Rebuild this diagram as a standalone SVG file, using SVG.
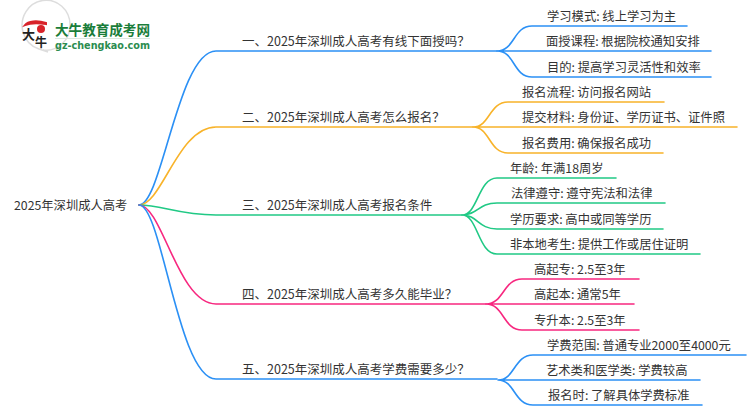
<svg xmlns="http://www.w3.org/2000/svg" width="750" height="410" viewBox="0 0 750 410">
<style>
text{font-family:"Noto Sans CJK SC","Noto Sans",sans-serif;font-size:12.3px;fill:#333}
.m{font-size:12.5px}
.c{fill:none;stroke-width:1.6;stroke-linecap:round}
.b{stroke:#2b90f5}.o{stroke:#f8b32a}.g{stroke:#20c985}.p{stroke:#f7277f}
.lt{font-size:14px;font-weight:700;fill:#1a7d3a}
.ls{font-size:10px;font-weight:700;fill:#2c8c50;font-family:"DejaVu Sans",sans-serif}
</style>
<rect width="750" height="410" fill="#fff"/>
<g id="connectors">
<path class="c b" d="M139 205C162 205 178 51 216 51H497"/>
<path class="c o" d="M139 205C162 205 178 127 216 127H473"/>
<path class="c g" d="M139 205C162 205 178 215 216 215H462"/>
<path class="c p" d="M139 205C162 205 178 304 216 304H486"/>
<path class="c b" d="M139 205C162 205 178 379 216 379H497"/>
<path class="c b" d="M497 51C515 51 513 26 532 26H687M497 51H711M497 51C515 51 513 77 532 77H711"/>
<path class="c o" d="M473 127C490 127 489 102 508 102H664M473 127H737M473 127C490 127 489 153 508 153H663"/>
<path class="c g" d="M462 215C478 215 478 178 497 178H616M462 215C478 215 478 203 497 203H665M462 215C478 215 478 229 497 229H663M462 215C478 215 478 254 497 254H700"/>
<path class="c p" d="M486 304C504 304 503 279 522 279H639M486 304H634M486 304C504 304 503 330 522 330H639"/>
<path class="c b" d="M498 380C515 380 514 355 533 355H746M498 380H700M498 380C515 380 514 405 533 405H702"/>
</g>
<g id="logo">
<path d="M23 32A24 25 0 1 1 43 50L48 52L39 49A24 25 0 0 1 23 32Z" fill="#fff" stroke="#ddd" stroke-width="1.5"/>
<path d="M25 25C28 21 37 20 46 23L46 24C38 23 30 23 25 25Z" fill="#d8232a" stroke="#d8232a" stroke-width="2"/>
<circle cx="41" cy="29" r="4" fill="#d8232a"/>
<text x="22" y="39" style="font-size:13px;font-weight:700;fill:#222">大</text>
<text x="35" y="47" style="font-size:12px;font-weight:700;fill:#222">牛</text>
<text class="lt" x="55" y="35" textLength="95" lengthAdjust="spacingAndGlyphs">大牛教育成考网</text>
<rect x="55" y="38" width="95" height="1" fill="#dce8e0"/>
<text class="ls" x="55" y="48.500" textLength="95" lengthAdjust="spacingAndGlyphs">gz-chengkao.com</text>
</g>
<g id="root"><text x="14" y="209.500">2025年深圳成人高考</text></g>
<g id="n1"><text class="m" x="242" y="46">一、2025年深圳成人高考有线下面授吗？</text></g>
<g id="n1a"><text x="547" y="21">学习模式: 线上学习为主</text></g>
<g id="n1b"><text x="546" y="46">面授课程: 根据院校通知安排</text></g>
<g id="n1c"><text x="547" y="72">目的: 提高学习灵活性和效率</text></g>
<g id="n2"><text class="m" x="242" y="122">二、2025年深圳成人高考怎么报名？</text></g>
<g id="n2a"><text x="522" y="97">报名流程: 访问报名网站</text></g>
<g id="n2b"><text x="522" y="122">提交材料: 身份证、学历证书、证件照</text></g>
<g id="n2c"><text x="522" y="148">报名费用: 确保报名成功</text></g>
<g id="n3"><text class="m" x="242" y="210">三、2025年深圳成人高考报名条件</text></g>
<g id="n3a"><text x="510" y="173">年龄: 年满18周岁</text></g>
<g id="n3b"><text x="511" y="198">法律遵守: 遵守宪法和法律</text></g>
<g id="n3c"><text x="510" y="224">学历要求: 高中或同等学历</text></g>
<g id="n3d"><text x="510" y="249">非本地考生: 提供工作或居住证明</text></g>
<g id="n4"><text class="m" x="242" y="299">四、2025年深圳成人高考多久能毕业？</text></g>
<g id="n4a"><text x="534" y="274">高起专: 2.5至3年</text></g>
<g id="n4b"><text x="534" y="299">高起本: 通常5年</text></g>
<g id="n4c"><text x="534" y="325">专升本: 2.5至3年</text></g>
<g id="n5"><text class="m" x="242" y="374">五、2025年深圳成人高考学费需要多少？</text></g>
<g id="n5a"><text x="547" y="350">学费范围: 普通专业2000至4000元</text></g>
<g id="n5b"><text x="546" y="375">艺术类和医学类: 学费较高</text></g>
<g id="n5c"><text x="548" y="400">报名时: 了解具体学费标准</text></g>
</svg>
